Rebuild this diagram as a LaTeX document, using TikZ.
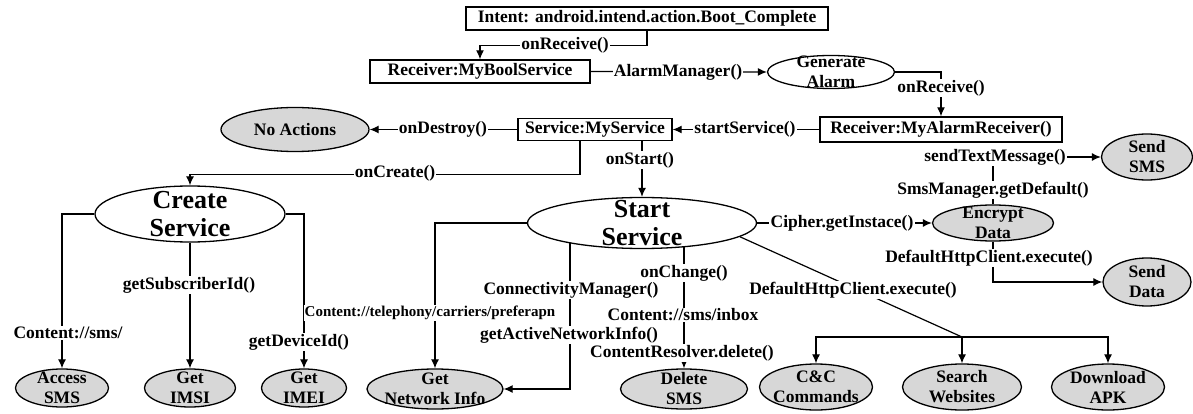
\documentclass[tikz,border=0pt]{standalone}
\usepackage{fontspec}
\setmainfont{Liberation Serif}
\usetikzlibrary{arrows.meta,shapes.geometric,backgrounds}
\definecolor{ellfill}{RGB}{215,215,215}
\newcommand{\lblsize}{\bfseries\fontsize{17.5}{20}\selectfont}
\newcommand{\smalllbl}{\bfseries\fontsize{15}{17}\selectfont}
\newcommand{\bigsize}{\bfseries\fontsize{26}{28}\selectfont}

\begin{document}
\begin{tikzpicture}[x=1pt,y=-1pt,
  every node/.style={font=\lblsize},
  box/.style={draw, line width=1.4pt, inner sep=0pt, fill=white},
  ell/.style={draw, ellipse, line width=1.3pt, inner sep=0pt, fill=ellfill},
  wellipse/.style={draw, ellipse, line width=1.3pt, inner sep=0pt, fill=white},
  intxt/.style={align=center, inner sep=0pt},
  tag/.style={fill=white, inner sep=1.2pt, align=center},
  conn/.style={line width=1.2pt},
  arr/.style={conn, -{Latex[length=9pt,width=8pt]}}
]
\useasboundingbox (0,0) rectangle (1193,414);

% boxes
\node[box, minimum width=362pt, minimum height=23pt] (intent) at (647,18.5) {Intent: android.intend.action.Boot\_Complete};
\node[box, minimum width=220pt, minimum height=23pt] (boot) at (480,71.5) {Receiver:MyBoolService};
\node[box, minimum width=242pt, minimum height=25pt] (recvalarm) at (941,129.5) {Receiver:MyAlarmReceiver()};
\node[box, minimum width=154pt, minimum height=22pt] (svc) at (595,129.5) {Service:MyService};

% white states
\node[wellipse, minimum width=127pt, minimum height=33pt, label={[intxt]center:Generate\\Alarm}] (alarm) at (831,72) {};
\node[wellipse, minimum width=190pt, minimum height=56pt, label={[intxt,font=\bigsize]center:Create\\Service}] (create) at (190,214) {};
\node[wellipse, minimum width=229pt, minimum height=51pt, label={[intxt,font=\bigsize]center:Start\\Service}] (start) at (642,223) {};

% grey states
\node[ell, minimum width=148pt, minimum height=44pt] (noact) at (295,129.5) {No Actions};
\node[ell, minimum width=121pt, minimum height=36pt, label={[intxt]center:Encrypt\\Data}] (encrypt) at (993,223) {};
\node[ell, minimum width=91pt, minimum height=46pt, label={[intxt]center:Send\\SMS}] (sendsms) at (1147,157) {};
\node[ell, minimum width=88pt, minimum height=48pt, label={[intxt]center:Send\\Data}] (senddata) at (1147,282) {};
\node[ell, minimum width=93pt, minimum height=38pt, label={[intxt]center:Access\\SMS}] (access) at (62,388) {};
\node[ell, minimum width=91pt, minimum height=38pt, label={[intxt]center:Get\\IMSI}] (imsi) at (190,388) {};
\node[ell, minimum width=85pt, minimum height=38pt, label={[intxt]center:Get\\IMEI}] (imei) at (304,388) {};
\node[ell, minimum width=136pt, minimum height=40pt, label={[intxt]center:Get\\Network Info}] (netinfo) at (435,389) {};
\node[ell, minimum width=127pt, minimum height=40pt, label={[intxt]center:Delete\\SMS}] (delsms) at (684,389) {};
\node[ell, minimum width=113pt, minimum height=46pt, label={[intxt]center:C\&C\\Commands}] (cc) at (816,387) {};
\node[ell, minimum width=119pt, minimum height=46pt, label={[intxt]center:Search\\Websites}] (search) at (962,387) {};
\node[ell, minimum width=113pt, minimum height=46pt, label={[intxt]center:Download\\APK}] (apk) at (1108,387) {};

% call labels sitting on the connectors
\node[tag] (l1) at (565,45) {onReceive()};
\node[tag] (l2) at (678,72) {AlarmManager()};
\node[tag] (l3) at (941,88) {onReceive()};
\node[tag] (l4) at (745,129) {startService()};
\node[tag] (l5) at (443,129) {onDestroy()};
\node[tag] (l6) at (395,173) {onCreate()};
\node[tag] (l7) at (640,160) {onStart()};
\node[tag] (l8) at (68,333) {Content://sms/};
\node[tag] (l9) at (189,285) {getSubscriberId()};
\node[tag] (l10) at (299,342) {getDeviceId()};
\node[tag, font=\smalllbl] (l11) at (430,313) {Content://telephony/carriers/preferapn};
\node[tag] (l12) at (571,290) {ConnectivityManager()};
\node[tag] (l13) at (569,335) {getActiveNetworkInfo()};
\node[tag] (l14) at (684,273) {onChange()};
\node[tag] (l15) at (683,315) {Content://sms/inbox};
\node[tag] (l16) at (682,353) {ContentResolver.delete()};
\node[tag] (l17) at (842,223) {Cipher.getInstace()};
\node[tag] (l18) at (853,290) {DefaultHttpClient.execute()};
\node[tag] (sendtag) at (995,157) {sendTextMessage()};
\node[tag] (l20) at (993,190) {SmsManager.getDefault()};
\node[tag] (l21) at (989,258) {DefaultHttpClient.execute()};

\coordinate (fork) at (962,337);

% connectors, kept under the shapes and labels
\begin{scope}[on background layer]
  \fill[white] (0,0) rectangle (1193,414);
  \draw[arr] (intent.south) -- ++(0,15) -| (boot.north);
  \draw[arr] (boot.east) -- (alarm.west);
  \draw[arr] (alarm.east) -| (recvalarm.north);
  \draw[arr] (recvalarm.west) -- (svc.east);
  \draw[arr] (svc.west) -- (noact.east);
  \draw[arr] ([xshift=-15pt]svc.south) -- ++(0,33) -| (create.north);
  \draw[arr] (svc.south -| start.north) -- (start.north);
  % create service branches
  \draw[arr] (create.west) -| (access.north);
  \draw[arr] (create.south) -- (imsi.north);
  \draw[arr] (create.east) -| (imei.north);
  % start service branches
  \draw[arr] (start.west) -| (netinfo.north);
  \draw[arr] ([xshift=-72pt]start.center) |- (netinfo.east);
  \draw[arr] (start.center -| delsms.north) -- (delsms.north);
  \draw[arr] (start.east) -- (encrypt.west);
  \draw[conn] (start.-8) -- (fork);
  \draw[arr] (fork) -| (cc.north);
  \draw[arr] (fork) -- (search.north);
  \draw[arr] (fork) -| (apk.north);
  % encrypted data leaves by SMS or HTTP
  \draw[conn] (encrypt.north) -- (encrypt.north |- sendtag.south);
  \draw[arr] (sendtag.east) -- (sendsms.west);
  \draw[arr] (encrypt.south) |- (senddata.west);
\end{scope}
\end{tikzpicture}
\end{document}
